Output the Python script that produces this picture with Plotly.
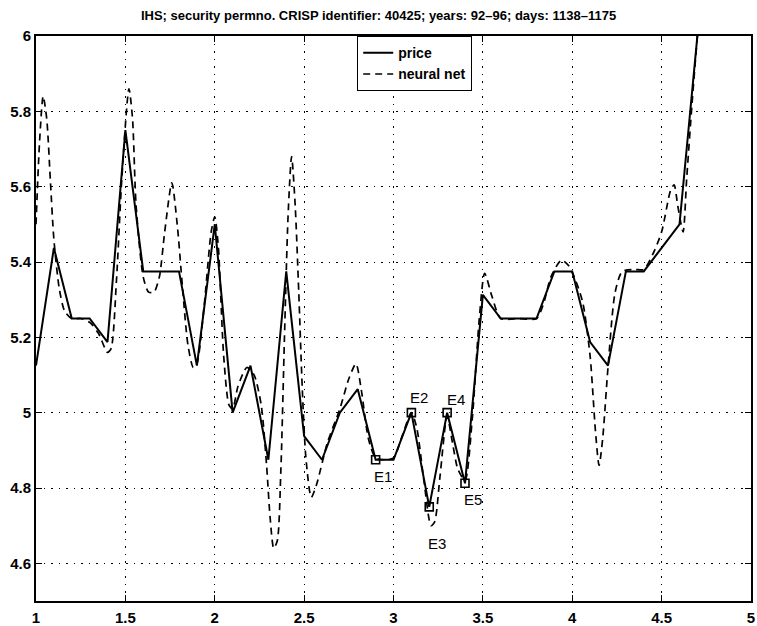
import plotly.graph_objects as go

# Trading days 1138-1175 mapped onto the 1..4.7 time axis
days = [1.0, 1.1, 1.2, 1.3, 1.4, 1.5, 1.6, 1.7, 1.8, 1.9,
        2.0, 2.1, 2.2, 2.3, 2.4, 2.5, 2.6, 2.7, 2.8, 2.9,
        3.0, 3.1, 3.2, 3.3, 3.4, 3.5, 3.6, 3.7, 3.8, 3.9,
        4.0, 4.1, 4.2, 4.3, 4.4, 4.5, 4.6, 4.7]
price = [5.125, 5.4375, 5.25, 5.25, 5.1875, 5.75, 5.375, 5.375, 5.375, 5.125,
         5.5, 5.0, 5.125, 4.875, 5.375, 4.9375, 4.875, 5.0, 5.0625, 4.875,
         4.875, 5.0, 4.75, 5.0, 4.8125, 5.3125, 5.25, 5.25, 5.25, 5.375,
         5.375, 5.1875, 5.125, 5.375, 5.375, 5.4375, 5.5, 6.0]

# Neural network output, sampled along the same axis
net_x = [1.00, 1.02, 1.04, 1.06, 1.08, 1.10, 1.13, 1.16, 1.20, 1.25,
         1.30, 1.35, 1.40, 1.42, 1.45, 1.48, 1.52, 1.54, 1.56, 1.60,
         1.63, 1.66, 1.69, 1.72, 1.76, 1.79, 1.82, 1.85, 1.88, 1.90,
         1.94, 1.98, 2.00, 2.02, 2.05, 2.08, 2.10, 2.13, 2.18, 2.22,
         2.26, 2.29, 2.31, 2.33, 2.35, 2.37, 2.39, 2.41, 2.43, 2.45,
         2.47, 2.49, 2.51, 2.54, 2.57, 2.63, 2.70, 2.75, 2.79, 2.82,
         2.86, 2.90, 2.95, 3.00, 3.05, 3.10, 3.13, 3.17, 3.21, 3.23,
         3.26, 3.30, 3.33, 3.36, 3.40, 3.44, 3.48, 3.51, 3.55, 3.60,
         3.70, 3.80, 3.84, 3.88, 3.94, 3.98, 4.02, 4.06, 4.10, 4.13,
         4.15, 4.17, 4.20, 4.24, 4.28, 4.35, 4.40, 4.45, 4.50, 4.55,
         4.57, 4.59, 4.62, 4.64, 4.67, 4.70]
net_y = [5.50, 5.72, 5.84, 5.78, 5.62, 5.46, 5.33, 5.27, 5.25, 5.25,
         5.24, 5.21, 5.16, 5.17, 5.35, 5.62, 5.86, 5.78, 5.55, 5.36,
         5.32, 5.32, 5.36, 5.48, 5.61, 5.50, 5.33, 5.18, 5.12, 5.13,
         5.28, 5.48, 5.52, 5.44, 5.15, 5.02, 5.01, 5.07, 5.12, 5.10,
         5.02, 4.86, 4.72, 4.64, 4.66, 4.85, 5.20, 5.52, 5.68, 5.55,
         5.32, 5.06, 4.88, 4.775, 4.81, 4.92, 5.01, 5.09, 5.13, 5.06,
         4.93, 4.88, 4.875, 4.88, 4.94, 5.00, 4.96, 4.82, 4.70, 4.71,
         4.83, 4.99, 4.92, 4.85, 4.82, 4.98, 5.25, 5.37, 5.31, 5.25,
         5.25, 5.25, 5.29, 5.36, 5.405, 5.39, 5.35, 5.29, 5.15, 4.95,
         4.86, 4.93, 5.12, 5.32, 5.375, 5.38, 5.38, 5.42, 5.48, 5.59,
         5.605, 5.55, 5.48, 5.62, 5.82, 6.00]

# Marked events on the price path
event_names = ["E1", "E2", "E3", "E4", "E5"]
event_x = [2.9, 3.1, 3.2, 3.3, 3.4]
event_y = [4.875, 5.0, 4.75, 5.0, 4.8125]
event_label_shift = [(7, -17), (8, 15), (8, -37), (9, 13), (8, -16)]

x_ticks = [1, 1.5, 2, 2.5, 3, 3.5, 4, 4.5, 5]
x_tick_text = ["1", "1.5", "2", "2.5", "3", "3.5", "4", "4.5", "5"]
y_ticks = [4.6, 4.8, 5.0, 5.2, 5.4, 5.6, 5.8, 6.0]
y_tick_text = ["4.6", "4.8", "5", "5.2", "5.4", "5.6", "5.8", "6"]

FONT = "Liberation Sans, Arial, sans-serif"

fig = go.Figure()
fig.add_trace(go.Scatter(
    x=days, y=price, mode="lines", name="price",
    line=dict(color="black", width=2),
))
fig.add_trace(go.Scatter(
    x=net_x, y=net_y, mode="lines", name="neural net",
    line=dict(color="black", width=1.7, dash="7px,5px", shape="spline", smoothing=0.7),
))
fig.add_trace(go.Scatter(
    x=event_x, y=event_y, mode="markers", showlegend=False,
    marker=dict(symbol="square-open", size=8, color="black", line=dict(width=1.6)),
))

for name, ex, ey, (dx, dy) in zip(event_names, event_x, event_y, event_label_shift):
    fig.add_annotation(
        x=ex, y=ey, text=name, showarrow=False, xshift=dx, yshift=dy,
        font=dict(family=FONT, size=15, color="black"),
    )

axis_common = dict(
    showline=True, linecolor="black", linewidth=1.8, mirror="ticks",
    ticks="inside", ticklen=6, tickwidth=1.2, tickcolor="black",
    showgrid=True, gridcolor="black", gridwidth=1.2, griddash="1.5px,6px",
    zeroline=False, automargin=False,
    tickfont=dict(family=FONT, size=15, color="black", weight="bold"),
)

fig.update_xaxes(range=[1, 5], tickvals=x_ticks, ticktext=x_tick_text,
                 ticklabelstandoff=2, **axis_common)
fig.update_yaxes(range=[4.5, 6], tickvals=y_ticks, ticktext=y_tick_text, **axis_common)

fig.update_layout(
    width=757, height=626,
    margin=dict(l=36, r=6, t=36, b=25),
    paper_bgcolor="white", plot_bgcolor="white",
    title=dict(
        text="IHS; security permno. CRISP identifier: 40425; years: 92\u201396; days: 1138\u20131175",
        x=0.5, xanchor="center", y=1 - 15 / 626, yanchor="middle",
        font=dict(family=FONT, size=13, color="black", weight="bold"),
    ),
    legend=dict(
        x=(357 - 36) / 715, xanchor="left", y=1.0, yanchor="top",
        bgcolor="white", bordercolor="black", borderwidth=1.2,
        font=dict(family=FONT, size=14, color="black", weight="bold"),
        itemwidth=30, tracegroupgap=0,
    ),
    showlegend=True,
)

fig.write_html("out.html")
